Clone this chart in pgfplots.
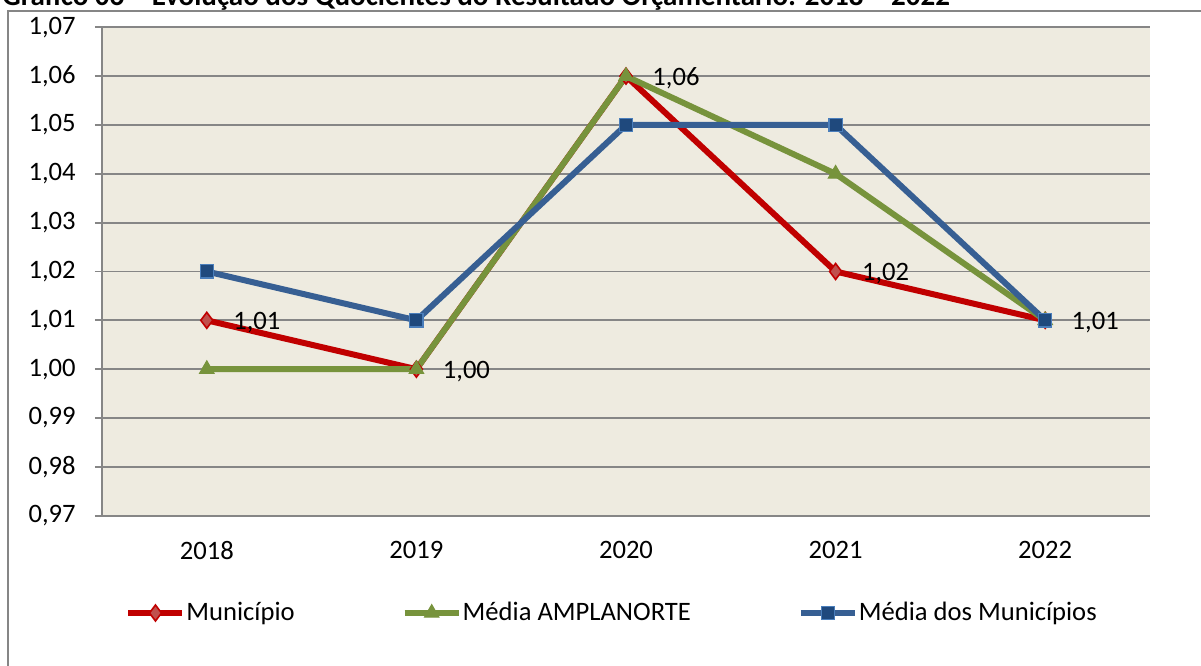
\documentclass[border=0pt]{standalone}
\usepackage{fontspec}
\setmainfont{Carlito}
\usepackage{pgfplots}
\pgfplotsset{compat=1.18}
\definecolor{bgtan}{HTML}{EEEBE0}
\definecolor{gridgray}{HTML}{868686}
\definecolor{munred}{HTML}{C00000}
\definecolor{munfill}{HTML}{C0504D}
\definecolor{ampgreen}{HTML}{77933C}
\definecolor{medblue}{HTML}{375F93}
\definecolor{medfill}{HTML}{1F497D}
\definecolor{mededge}{HTML}{4A7EBB}
\pgfkeys{/pgf/number format/.cd, fixed, fixed zerofill, precision=2, use comma, assume math mode=true}
\begin{document}
\begin{tikzpicture}[font=\fontsize{13.3}{16}\selectfont]
% page = 1201 x 665 px at 0.5pt per px
\useasboundingbox (0,0) rectangle (600.5pt,332.5pt);
\draw[gridgray, line width=1pt] (4pt,-10pt) rectangle (700pt,326.75pt);
\node[anchor=base west, font=\fontsize{14.5}{17}\selectfont\bfseries, inner sep=0pt]
  at (1pt,329.5pt) {Gráfico 06 – Evolução dos Quocientes do Resultado Orçamentário: 2018 – 2022};
\begin{axis}[
  at={(51pt,74.65pt)}, anchor=south west,
  scale only axis, width=524pt, height=244.2pt,
  xmin=-0.5, xmax=4.5, ymin=0.97, ymax=1.07,
  xtick={0,1,2,3,4}, xticklabels={2018,2019,2020,2021,2022},
  ytick={0.97,0.98,0.99,1.00,1.01,1.02,1.03,1.04,1.05,1.06,1.07},
  axis x line*=bottom, axis y line*=left,
  axis line style={gridgray, line width=0.9pt, -},
  axis background/.style={fill=bgtan},
  ymajorgrids, grid style={gridgray, line width=0.9pt},
  tick align=outside, major tick length=3.5pt,
  xtick style={draw=none},
  ytick style={gridgray, line width=0.9pt},
  yticklabel style={inner sep=0pt, xshift=-9.5pt},
  xticklabel style={inner sep=0pt, anchor=north, yshift=-9pt},
  legend columns=3,
  legend style={at={(0.0220,-0.1992)}, anchor=west, draw=none, fill=none,
    inner sep=0pt, nodes={inner sep=0.5pt},
    /tikz/every odd column/.append style={column sep=0pt},
    /tikz/every even column/.append style={column sep=53pt}},
  legend image code/.code={\draw[mark repeat=2, mark phase=2]
    plot coordinates {(0pt,0pt)(13.5pt,0pt)(27pt,0pt)};},
  clip=false,
]
\addplot[munred, line width=3pt, mark=diamond*, mark size=4pt,
  mark options={fill=munfill, draw=munred, line width=0.8pt},
  nodes near coords, point meta=y,
  every node near coord/.append style={black, anchor=west, xshift=9.5pt, yshift=-1pt}]
  coordinates {(0,1.01)(1,1.00)(2,1.06)(3,1.02)(4,1.01)};
\addlegendentry{Município}
\addplot[ampgreen, line width=3pt, mark=triangle*, mark size=4.2pt,
  mark options={fill=ampgreen, draw=ampgreen, line width=0.5pt}]
  coordinates {(0,1.00)(1,1.00)(2,1.06)(3,1.04)(4,1.01)};
\addlegendentry{Média AMPLANORTE}
\addplot[medblue, line width=3pt, mark=square*, mark size=3.3pt,
  mark options={fill=medfill, draw=mededge, line width=0.6pt}]
  coordinates {(0,1.02)(1,1.01)(2,1.05)(3,1.05)(4,1.01)};
\addlegendentry{Média dos Municípios}
\end{axis}
\end{tikzpicture}
\end{document}
